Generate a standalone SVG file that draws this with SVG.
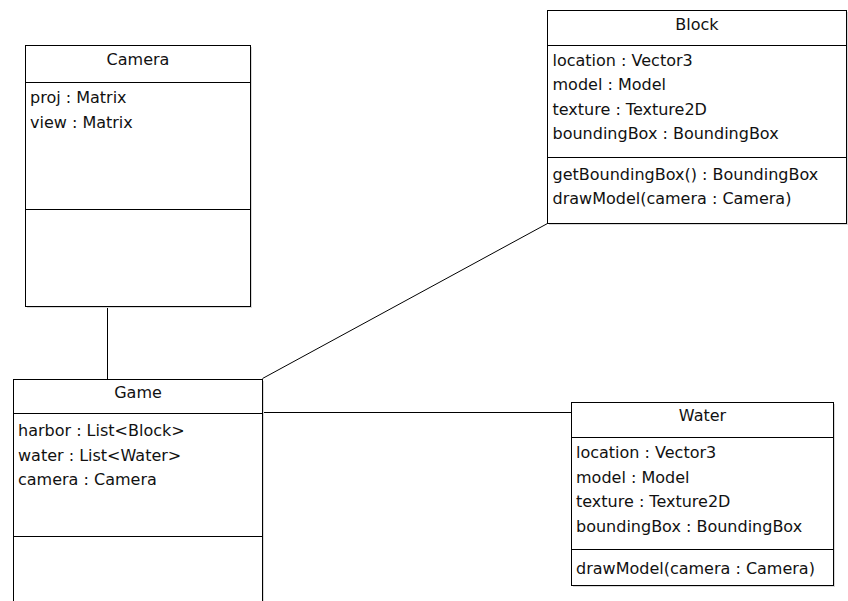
<svg xmlns="http://www.w3.org/2000/svg" width="848" height="601" viewBox="0 0 848 601">
<style>
.box{fill:#fff;stroke:#000;stroke-width:1}
.shadow{fill:#d9d9d9;stroke:none}
.div{stroke:#000;stroke-width:1;fill:none}
.conn{stroke:#000;stroke-width:1;fill:none}
text{font-family:"DejaVu Sans","Liberation Sans",Arial,sans-serif;font-size:16px;fill:#111}
.title{text-anchor:middle}
</style>
<rect width="848" height="601" fill="#fff"/>
<g id="connectors">
<line class="conn" x1="107.5" y1="306.5" x2="107.5" y2="379.5"/>
<line class="conn" x1="262.5" y1="378.5" x2="547.5" y2="223.5"/>
<line class="conn" x1="262.5" y1="412.5" x2="571.5" y2="412.5"/>
</g>
<g id="camera">
<rect class="shadow" x="27" y="47" width="225" height="261"/>
<rect class="box" x="25.5" y="45.5" width="225" height="261"/>
<line class="div" x1="25.5" y1="82.5" x2="250.5" y2="82.5"/>
<line class="div" x1="25.5" y1="209.5" x2="250.5" y2="209.5"/>
<text class="title" x="138" y="65">Camera</text>
<text x="30" y="103">proj : Matrix</text>
<text x="30" y="127.5">view : Matrix</text>
</g>
<g id="block">
<rect class="shadow" x="549" y="12" width="299" height="213"/>
<rect class="box" x="547.5" y="10.5" width="299" height="213"/>
<line class="div" x1="547.5" y1="45.5" x2="846.5" y2="45.5"/>
<line class="div" x1="547.5" y1="157.5" x2="846.5" y2="157.5"/>
<text class="title" x="697" y="29.5">Block</text>
<text x="552.5" y="65.5">location : Vector3</text>
<text x="552.5" y="90">model : Model</text>
<text x="552.5" y="114.5">texture : Texture2D</text>
<text x="552.5" y="139">boundingBox : BoundingBox</text>
<text x="552.5" y="179.5">getBoundingBox() : BoundingBox</text>
<text x="552.5" y="204">drawModel(camera : Camera)</text>
</g>
<g id="game">
<rect class="shadow" x="15" y="381" width="249" height="225"/>
<rect class="box" x="13.5" y="379.5" width="249" height="225"/>
<line class="div" x1="13.5" y1="413.5" x2="262.5" y2="413.5"/>
<line class="div" x1="13.5" y1="536.5" x2="262.5" y2="536.5"/>
<text class="title" x="138" y="398">Game</text>
<text x="18" y="436">harbor : List&lt;Block&gt;</text>
<text x="18" y="460.5">water : List&lt;Water&gt;</text>
<text x="18" y="485">camera : Camera</text>
</g>
<g id="water">
<rect class="shadow" x="573" y="404" width="262" height="183"/>
<rect class="box" x="571.5" y="402.5" width="262" height="183"/>
<line class="div" x1="571.5" y1="437.5" x2="833.5" y2="437.5"/>
<line class="div" x1="571.5" y1="549.5" x2="833.5" y2="549.5"/>
<text class="title" x="702.5" y="421">Water</text>
<text x="576" y="458">location : Vector3</text>
<text x="576" y="482.5">model : Model</text>
<text x="576" y="507">texture : Texture2D</text>
<text x="576" y="531.5">boundingBox : BoundingBox</text>
<text x="576" y="573.5">drawModel(camera : Camera)</text>
</g>
</svg>
